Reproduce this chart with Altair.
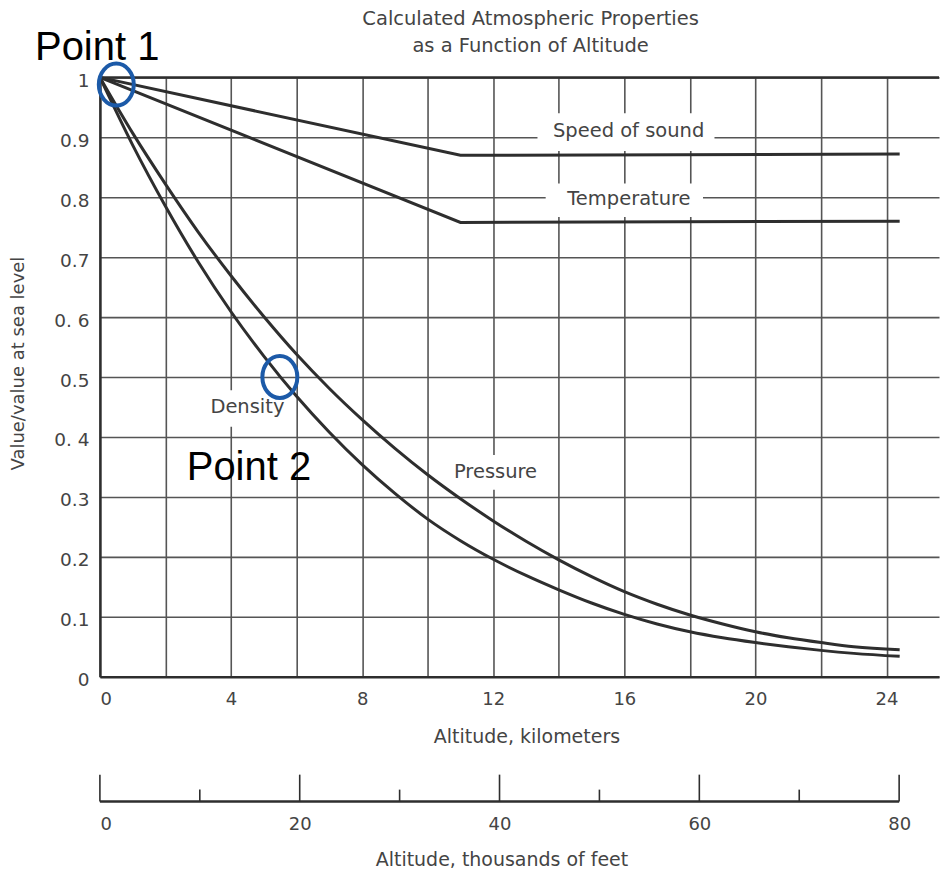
import altair as alt
import pandas as pd

# ---------------- data ----------------
km = [0, 1, 2, 3, 4, 5, 6, 7, 8, 9, 10, 11, 12, 13, 14, 15, 16, 17, 18, 19, 20, 21, 22, 23, 24.4]
upper_curve = [1.0, 0.907, 0.822, 0.742, 0.669, 0.601, 0.538, 0.481, 0.429, 0.381, 0.337, 0.297,
               0.260, 0.226, 0.195, 0.167, 0.142, 0.121, 0.103, 0.088, 0.075, 0.065, 0.057, 0.050, 0.045]
lower_curve = [1.0, 0.887, 0.785, 0.692, 0.609, 0.535, 0.468, 0.408, 0.354, 0.306, 0.263, 0.227,
               0.196, 0.169, 0.145, 0.123, 0.104, 0.088, 0.075, 0.065, 0.057, 0.050, 0.044, 0.039, 0.034]
flat_km = [0, 11, 24.4]
speed_of_sound = [1.0, 0.870, 0.872]
temperature = [1.0, 0.758, 0.760]

x_grid = [0, 2, 4, 6, 8, 10, 12, 14, 16, 18, 20, 22, 24]
y_grid = [0, 0.1, 0.2, 0.3, 0.4, 0.5, 0.6, 0.7, 0.8, 0.9, 1.0]
y_labels = ["0", "0.1", "0.2", "0.3", "0. 4", "0.5", "0. 6", "0.7", "0.8", "0.9", "1"]
kft_major = [0, 20, 40, 60, 80]
kft_minor = [10, 30, 50, 70]

title_lines = ["Calculated Atmospheric Properties", "as a Function of Altitude"]
title_km = [13.14, 13.14]
title_v = [1.097, 1.052]

label_text = ["Speed of sound", "Temperature", "Pressure", "Density"]
label_km = [16.13, 16.14, 12.07, 4.5]
label_v = [0.91, 0.797, 0.342, 0.45]
box_km = [13.35, 13.6, 10.7, 3.3]
box_km2 = [18.75, 18.4, 13.4, 5.7]
box_v = [0.877, 0.767, 0.312, 0.417]
box_v2 = [0.94, 0.823, 0.37, 0.478]

point_text = ["Point 1", "Point 2"]
point_text_km = [-1.98, 2.65]
point_text_v = [1.029, 0.328]
circle_km = [0.5, 5.49]
circle_v = [0.988, 0.5]

# ---------------- styling ----------------
W, H = 840, 600
XMAX = 25.6
FT_PER_KM = 1 / 0.3048
FONT = "DejaVu Sans"
TXT = "#444444"
LINE = "#2e2e2e"
GRID = "#555555"

xs = alt.Scale(domain=[0, XMAX], nice=False, zero=False)
ys = alt.Scale(domain=[0, 1], nice=False)

curves = pd.DataFrame({
    "km": km * 2,
    "v": upper_curve + lower_curve,
    "series": ["Pressure"] * len(km) + ["Density"] * len(km),
})
flats = pd.DataFrame({
    "km": flat_km * 2,
    "v": speed_of_sound + temperature,
    "series": ["Speed of sound"] * 3 + ["Temperature"] * 3,
})
labels = pd.DataFrame({"km": label_km, "v": label_v, "t": label_text,
                       "bx": box_km, "bx2": box_km2, "by": box_v, "by2": box_v2})
points = pd.DataFrame({"km": point_text_km, "v": point_text_v, "t": point_text,
                       "ck": circle_km, "cv": circle_v})
titles = pd.DataFrame({"km": title_km, "v": title_v, "t": title_lines})

y_expr = "[" + ",".join(f"'{s}'" for s in y_labels) + "][round(datum.value*10)]"

x_axis = alt.Axis(values=x_grid, labelExpr="datum.value % 4 == 0 ? format(datum.value, 'd') : ''",
                  grid=True, gridColor=GRID, gridWidth=1.6, gridOpacity=1,
                  ticks=False, domain=True, domainColor=LINE, domainWidth=2.5,
                  labelFont=FONT, labelFontSize=18, labelColor=TXT, labelPadding=14,
                  title="Altitude, kilometers", titleFont=FONT, titleFontSize=19,
                  titleFontWeight="normal", titleColor=TXT, titlePadding=19, titleX=427)
y_axis = alt.Axis(values=y_grid, labelExpr=y_expr,
                  grid=True, gridColor=GRID, gridWidth=1.6, gridOpacity=1,
                  ticks=False, domain=True, domainColor=LINE, domainWidth=2.5,
                  labelFont=FONT, labelFontSize=18.5, labelColor=TXT, labelPadding=11,
                  labelOffset=3,
                  title="Value/value at sea level", titleFont=FONT, titleFontSize=18,
                  titleFontWeight="normal", titleColor=TXT, titleX=-81, titleY=286,
                  titleBaseline="middle", titleAngle=270)


def X(field):
    return alt.X(field, scale=xs, axis=x_axis, title="Altitude, kilometers")


def Y(field):
    return alt.Y(field, scale=ys, axis=y_axis, title="Value/value at sea level")


curve_layer = alt.Chart(curves).mark_line(interpolate="monotone", color=LINE, strokeWidth=3).encode(
    x=X("km:Q"), y=Y("v:Q"), detail="series:N",
)
flat_layer = alt.Chart(flats).mark_line(color=LINE, strokeWidth=3).encode(
    x=X("km:Q"), y=Y("v:Q"), detail="series:N",
)
top_rule = alt.Chart(pd.DataFrame({"v": [1.0]})).mark_rule(color=LINE, strokeWidth=2.5).encode(
    y=Y("v:Q")
)
boxes = alt.Chart(labels).mark_rect(fill="white").encode(
    x=X("bx:Q"), x2="bx2:Q", y=Y("by:Q"), y2="by2:Q",
)
label_layer = alt.Chart(labels).mark_text(font=FONT, fontSize=19.5, color=TXT, align="center",
                                          baseline="middle").encode(
    x=X("km:Q"), y=Y("v:Q"), text="t:N"
)
title_layer = alt.Chart(titles).mark_text(font=FONT, fontSize=19.5, color=TXT, align="center",
                                          baseline="middle").encode(
    x=X("km:Q"), y=Y("v:Q"), text="t:N"
)
point_layer = alt.Chart(points).mark_text(font="Liberation Sans", fontSize=40, color="black",
                                          align="left", baseline="alphabetic").encode(
    x=X("km:Q"), y=Y("v:Q"), text="t:N"
)
ellipse_path = "M 0,-1 A 0.833,1 0 1,1 0,1 A 0.833,1 0 1,1 0,-1 Z"
circle_layer = alt.Chart(points).mark_point(shape=ellipse_path, size=1764, filled=False,
                                            stroke="#1c5aa8", strokeWidth=4, opacity=1).encode(
    x=X("ck:Q"), y=Y("cv:Q")
)

main = alt.layer(top_rule, boxes, curve_layer, flat_layer, label_layer, title_layer,
                 circle_layer, point_layer).properties(width=W, height=H)

# ---------------- secondary scale (thousands of feet) ----------------
SH = 30
ks = alt.Scale(domain=[0, XMAX * FT_PER_KM], nice=False, zero=False)
kft_axis = alt.Axis(values=kft_major, grid=False, ticks=False, domain=False,
                    labelFont=FONT, labelFontSize=18, labelColor=TXT, labelPadding=14,
                    title="Altitude, thousands of feet", titleFont=FONT, titleFontSize=19,
                    titleFontWeight="normal", titleColor=TXT, titlePadding=17, titleX=402)


def K(field):
    return alt.X(field, scale=ks, axis=kft_axis, title="Altitude, thousands of feet")


baseline = alt.Chart(pd.DataFrame({"kft": [kft_major[0]], "kft2": [kft_major[-1]]})).mark_rule(
    color=LINE, strokeWidth=2.5).encode(x=K("kft:Q"), x2="kft2:Q", y=alt.value(SH))
major_ticks = alt.Chart(pd.DataFrame({"kft": kft_major})).mark_rule(color=LINE, strokeWidth=1.6).encode(
    x=K("kft:Q"), y=alt.value(SH), y2=alt.value(SH - 27)
)
minor_ticks = alt.Chart(pd.DataFrame({"kft": kft_minor})).mark_rule(color=LINE, strokeWidth=1.6).encode(
    x=K("kft:Q"), y=alt.value(SH), y2=alt.value(SH - 12)
)
strip = alt.layer(baseline, major_ticks, minor_ticks).properties(width=W, height=SH)

chart = alt.vconcat(main, strip, spacing=25).resolve_scale(x="independent").properties(
    padding={"left": 2, "top": 0, "right": 0, "bottom": 0},
    background="white",
).configure_view(stroke=None)

chart.save("out.html", embed_options={"renderer": "svg", "actions": False})
